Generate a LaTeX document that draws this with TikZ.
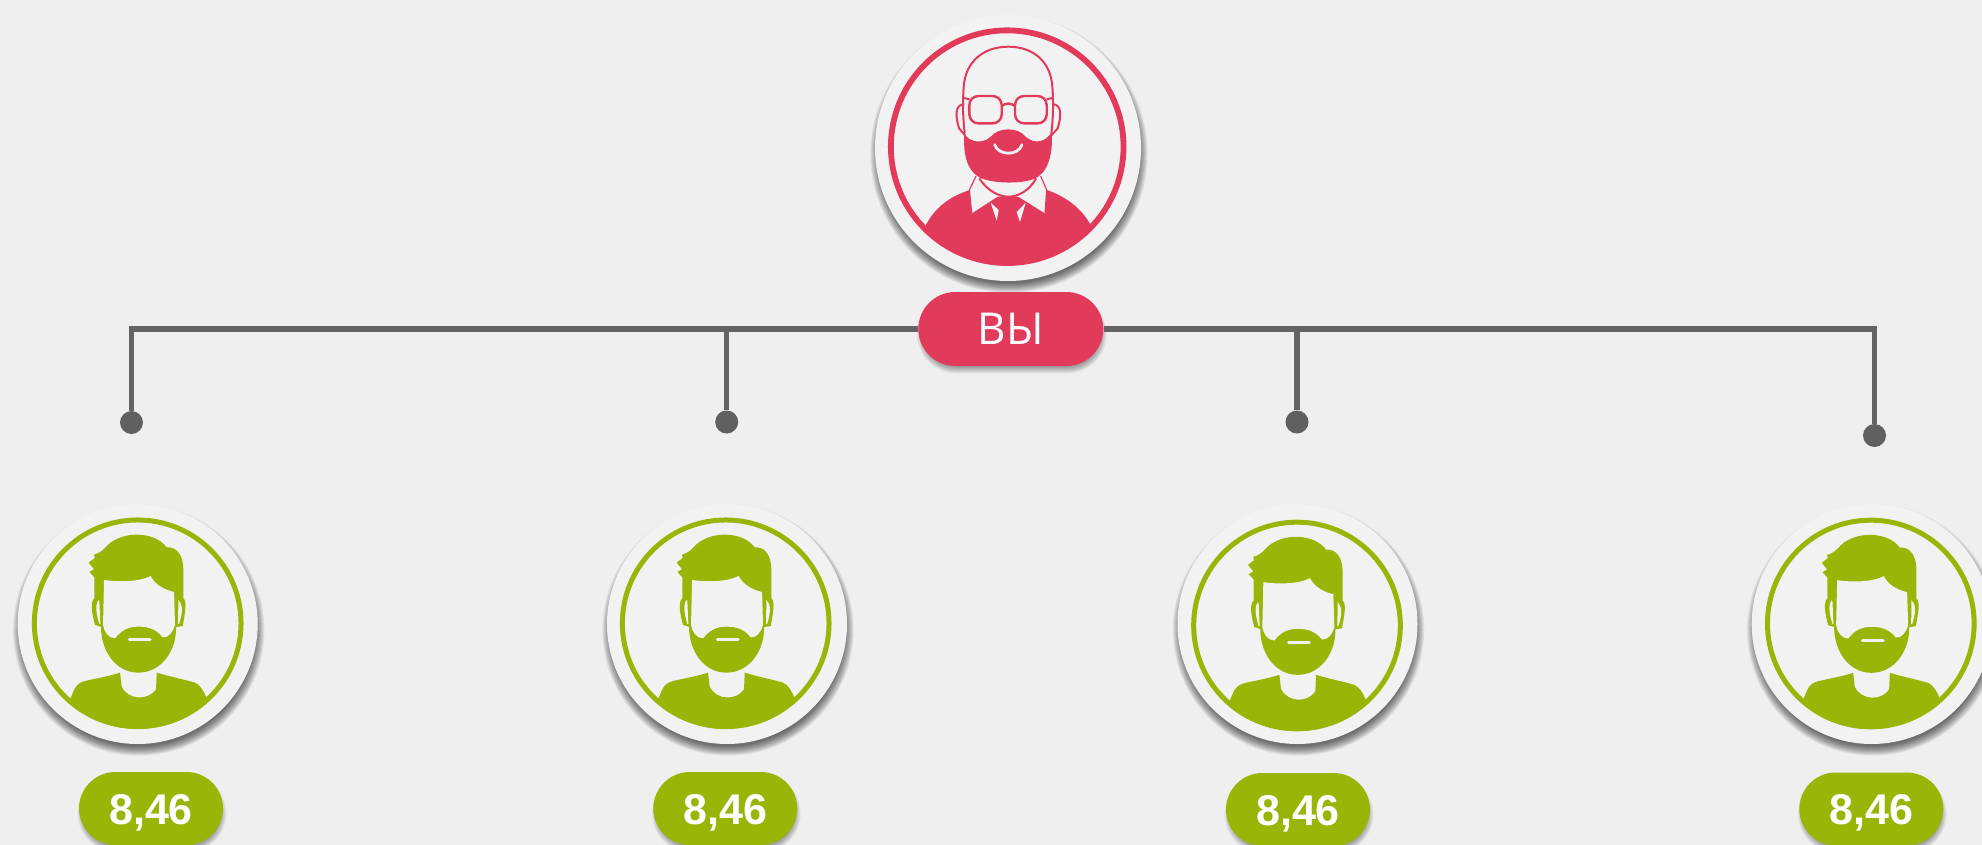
\documentclass[tikz,border=0pt]{standalone}
\usepackage{fontspec}
\setmainfont{Liberation Sans}
\newfontfamily\vyfont{Open Sans}
\usetikzlibrary{shapes.misc}
\definecolor{bgc}{HTML}{EFEFEF}
\definecolor{diskc}{HTML}{F2F2F2}
\definecolor{redc}{HTML}{E23A5A}
\definecolor{greenc}{HTML}{98B508}
\definecolor{wirec}{HTML}{646464}
\definecolor{dotc}{HTML}{606060}
\tikzset{
  disk/.style={circle,fill=diskc,inner sep=0pt,minimum size=#1},
  pill/.style={rounded rectangle,inner sep=0pt,text=white},
  scorepill/.style={pill,fill=greenc,minimum width=144pt,minimum height=73pt,
    text height=31pt,text depth=0pt,font=\fontsize{43}{43}\selectfont\bfseries},
  youpill/.style={pill,fill=redc,minimum width=185pt,minimum height=74pt,
    text height=30.5pt,text depth=0pt,font=\fontsize{44}{44}\selectfont\vyfont},
  enddot/.style={circle,fill=dotc,inner sep=0pt,minimum size=23pt},
  wire/.style={draw=wirec,line width=5.4pt,miter limit=10},
  pics/diskshadow/.style={code={
    \foreach \i in {0,1,...,13}{
      \fill[black,fill opacity=0.05] (1,6) circle ({#1-4pt+\i*0.75pt});
    }
  }},
  pics/pillshadow/.style n args={2}{code={
    \foreach \i in {0,1,...,8}{
      \node[rounded rectangle,inner sep=0pt,fill=black,fill opacity=0.045,
        minimum width={#1-8pt+\i*1.6pt},minimum height={#2-8pt+\i*1.6pt}] at (1,5) {};
    }
  }},
  pics/greenman/.style={code={
    \begin{scope}[shift={(-413,-400)}]
      \begin{scope}
        \clip (413,400) circle (316);
        \fill[greenc] (205,640) -- (222,600) .. controls (228,585) and (240,577) .. (255,573)
          .. controls (290,565) and (330,558) .. (360,548)
          -- (365,590) .. controls (385,632) and (445,632) .. (468,598) -- (470,548)
          .. controls (510,560) and (550,568) .. (585,578) .. controls (600,585) and (610,600) .. (622,630)
          -- (640,800) -- (190,800) -- cycle;
      \end{scope}
      % hair, sideburns and beard
      \fill[greenc] (283,262) -- (268,246) -- (282,238) -- (266,218) -- (284,204) -- (282,194)
        .. controls (315,185) and (320,160) .. (345,150)
        .. controls (385,126) and (465,126) .. (500,172)
        .. controls (532,170) and (550,198) .. (550,240)
        -- (550,325) -- (528,412)
        .. controls (530,480) and (485,548) .. (415,548)
        .. controls (345,548) and (303,480) .. (303,412)
        -- (283,330) -- cycle;
      % ears
      \fill[greenc] (283,325) .. controls (270,335) and (275,370) .. (285,405) -- (308,412) -- (308,325) -- cycle;
      \fill[greenc] (550,325) .. controls (562,335) and (555,370) .. (548,408) -- (525,412) -- (525,325) -- cycle;
      \fill[diskc] (296,330) .. controls (283,345) and (290,375) .. (298,402) -- (301,402) -- (298,335) -- cycle;
      \fill[diskc] (534,330) .. controls (552,345) and (546,375) .. (537,402) -- (534,402) -- (535,335) -- cycle;
      % face
      \fill[diskc] (312,270) .. controls (360,277) and (420,275) .. (452,258)
        .. controls (465,285) and (495,300) .. (522,306)
        -- (525,405) .. controls (520,425) and (505,445) .. (488,442)
        .. controls (470,420) and (450,410) .. (415,410)
        .. controls (385,410) and (365,420) .. (345,445)
        .. controls (325,445) and (312,425) .. (309,405) -- cycle;
      \draw[diskc,line width=3pt,line cap=round] (388,450) -- (450,450);
    \end{scope}
    \draw[greenc,line width=5pt] (0,0) circle (310);
  }},
  pics/redman/.style={code={
    \begin{scope}[shift={(-441.5,-440)}]
      \begin{scope}
        \clip (441.5,440) circle (356);
        \fill[redc] (190,690) .. controls (220,625) and (265,590) .. (335,568)
          -- (555,568) .. controls (620,590) and (665,625) .. (695,680) -- (720,800) -- (170,800) -- cycle;
      \end{scope}
      % collar
      \fill[diskc] (348,528) -- (328,570) -- (335,640) -- (412,590) -- (475,590) -- (555,640) -- (560,570) -- (542,528) -- cycle;
      \draw[redc,line width=1.2pt] (348,528) -- (328,570) -- (335,640);
      \draw[redc,line width=1.2pt] (542,528) -- (560,570) -- (555,640);
      \draw[redc,line width=2pt] (358,535) .. controls (380,570) and (415,590) .. (445,590)
        .. controls (475,590) and (510,570) .. (528,535);
      % lapels
      \fill[diskc] (392,608) -- (410,662) -- (416,630) -- cycle;
      \fill[diskc] (497,608) -- (480,666) -- (470,636) -- cycle;
      % head
      \draw[redc,line width=2pt] (314,400) .. controls (308,350) and (308,300) .. (311,260)
        .. controls (316,185) and (370,140) .. (445,140)
        .. controls (520,140) and (572,185) .. (577,260)
        .. controls (580,300) and (580,350) .. (574,400);
      % ears
      \draw[redc,line width=2pt] (312,312) .. controls (285,315) and (285,345) .. (297,385) -- (315,406);
      \draw[redc,line width=2pt] (578,312) .. controls (605,315) and (605,345) .. (593,385) -- (574,406);
      % beard
      \fill[redc] (313,400) .. controls (325,425) and (365,435) .. (392,410)
        .. controls (405,395) and (425,388) .. (443,388)
        .. controls (465,388) and (485,395) .. (497,410)
        .. controls (525,435) and (560,425) .. (575,395)
        .. controls (580,470) and (560,520) .. (525,535)
        .. controls (490,552) and (400,552) .. (360,533)
        .. controls (325,515) and (308,470) .. (313,400) -- cycle;
      \draw[diskc,line width=2.8pt,line cap=round] (404,434) .. controls (415,468) and (475,468) .. (486,434);
      % glasses
      \draw[redc,line width=2.4pt,rounded corners=9pt] (328,288) rectangle (425,370);
      \draw[redc,line width=2.4pt,rounded corners=9pt] (465,288) rectangle (560,370);
      \draw[redc,line width=2.4pt] (425,318) .. controls (438,308) and (452,308) .. (465,318);
      \draw[redc,line width=2pt] (328,298) -- (312,294);
      \draw[redc,line width=2pt] (560,298) -- (576,294);
    \end{scope}
    \draw[redc,line width=5.8pt] (0,0) circle (349);
  }}
}
\begin{document}
\begin{tikzpicture}[x=1pt,y=-1pt]
  \useasboundingbox (0,0) rectangle (1982,845);
  \clip (0,0) rectangle (1982,845);
  \fill[bgc] (0,0) rectangle (1982,845);

  % top person
  \pic at (1008,148) {diskshadow=133pt};
  \node[disk=266pt] (top) at (1008,148) {};
  \pic[scale=1/3] at (1007.2,146.7) {redman};

  % end dots
  \node[enddot] (d1) at (131.5,422.5) {};
  \node[enddot] (d2) at (726.7,422) {};
  \node[enddot] (d3) at (1297,422) {};
  \node[enddot] (d4) at (1874.5,435.5) {};

  % red pill
  \pic at (1010.8,329) {pillshadow={185pt}{74pt}};
  \node[youpill] (you) at (1010.8,329) {ВЫ};

  % connectors
  \path[wire] (d1) |- (you.west);
  \path[wire] (d4) |- (you.east);
  \path[wire] (d2) -- (d2 |- you.west);
  \path[wire] (d3) -- (d3 |- you.east);

  % green persons
  \pic at (137.7,624) {diskshadow=120pt};
  \node[disk=240pt] (p1) at (137.7,624) {};
  \pic[scale=1/3] at (137.7,623.3) {greenman};
  \pic at (727,624) {diskshadow=120pt};
  \node[disk=240pt] (p2) at (727,624) {};
  \pic[scale=1/3] at (725.7,623.3) {greenman};
  \pic at (1297.5,624) {diskshadow=120pt};
  \node[disk=240pt] (p3) at (1297.5,624) {};
  \pic[scale=1/3] at (1297,625.5) {greenman};
  \pic at (1871.7,624) {diskshadow=120pt};
  \node[disk=240pt] (p4) at (1871.7,624) {};
  \pic[scale=1/3] at (1870.8,623.5) {greenman};

  % score pills
  \pic at (151,808.5) {pillshadow={144pt}{73pt}};
  \node[scorepill] (s1) at (151,808.5) {8,46};
  \pic at (725.3,808.5) {pillshadow={144pt}{73pt}};
  \node[scorepill] (s2) at (725.3,808.5) {8,46};
  \pic at (1298,809.5) {pillshadow={144pt}{73pt}};
  \node[scorepill] (s3) at (1298,809.5) {8,46};
  \pic at (1871.3,809) {pillshadow={144pt}{73pt}};
  \node[scorepill] (s4) at (1871.3,809) {8,46};
\end{tikzpicture}
\end{document}
